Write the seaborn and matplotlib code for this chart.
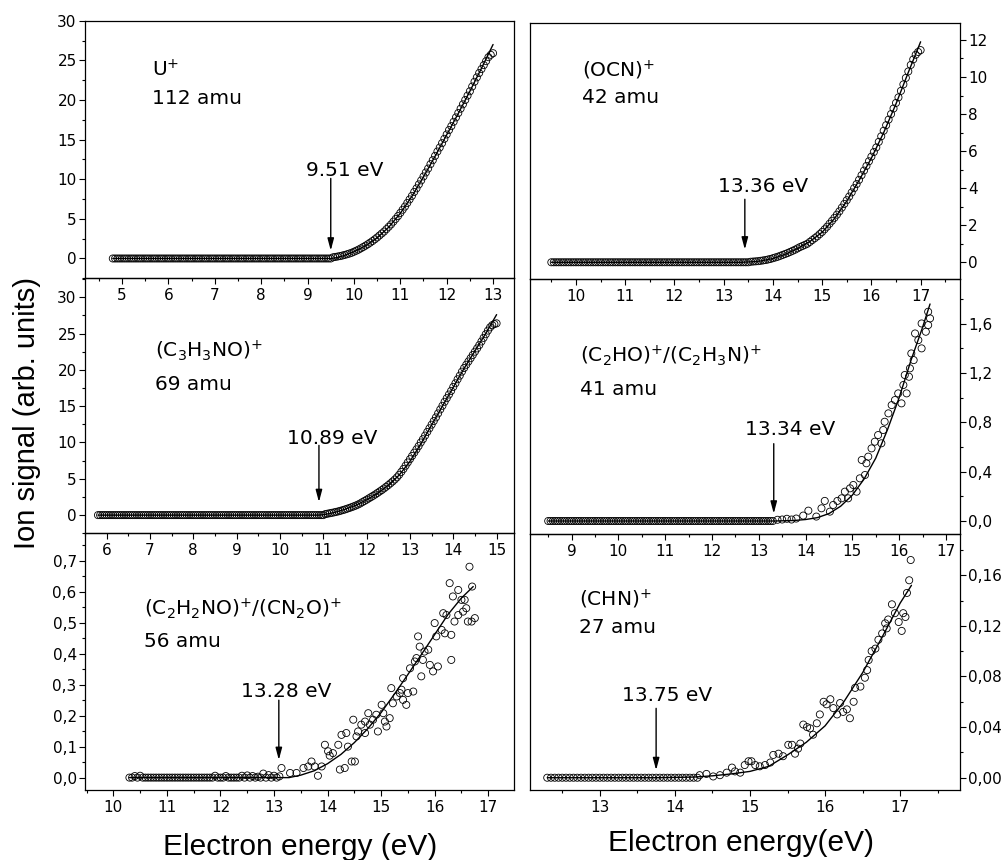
import matplotlib
matplotlib.use("Agg")
import matplotlib.pyplot as plt
from matplotlib.ticker import MultipleLocator, FuncFormatter
import seaborn as sns

sns.set_style("ticks")
plt.rcParams["font.family"] = ["DejaVu Sans"]
plt.rcParams["mathtext.fontset"] = "dejavusans"
for key in ["text.color", "axes.labelcolor", "xtick.color", "ytick.color", "axes.edgecolor"]:
    plt.rcParams[key] = "black"

# ---- U+ , 112 amu ----
u_base = [4.80, 4.85, 4.90, 4.95,
          5.00, 5.05, 5.10, 5.15, 5.20, 5.25, 5.30, 5.35, 5.40, 5.45,
          5.50, 5.55, 5.60, 5.65, 5.70, 5.75, 5.80, 5.85, 5.90, 5.95,
          6.00, 6.05, 6.10, 6.15, 6.20, 6.25, 6.30, 6.35, 6.40, 6.45,
          6.50, 6.55, 6.60, 6.65, 6.70, 6.75, 6.80, 6.85, 6.90, 6.95,
          7.00, 7.05, 7.10, 7.15, 7.20, 7.25, 7.30, 7.35, 7.40, 7.45,
          7.50, 7.55, 7.60, 7.65, 7.70, 7.75, 7.80, 7.85, 7.90, 7.95,
          8.00, 8.05, 8.10, 8.15, 8.20, 8.25, 8.30, 8.35, 8.40, 8.45,
          8.50, 8.55, 8.60, 8.65, 8.70, 8.75, 8.80, 8.85, 8.90, 8.95,
          9.00, 9.05, 9.10, 9.15, 9.20, 9.25, 9.30, 9.35, 9.40, 9.45, 9.50]
u_e = [9.55, 9.60, 9.65, 9.70, 9.75, 9.80, 9.85, 9.90, 9.95, 10.00,
       10.05, 10.10, 10.15, 10.20, 10.25, 10.30, 10.35, 10.40, 10.45, 10.50,
       10.55, 10.60, 10.65, 10.70, 10.75, 10.80, 10.85, 10.90, 10.95, 11.00,
       11.05, 11.10, 11.15, 11.20, 11.25, 11.30, 11.35, 11.40, 11.45, 11.50,
       11.55, 11.60, 11.65, 11.70, 11.75, 11.80, 11.85, 11.90, 11.95, 12.00,
       12.05, 12.10, 12.15, 12.20, 12.25, 12.30, 12.35, 12.40, 12.45, 12.50,
       12.55, 12.60, 12.65, 12.70, 12.75, 12.80, 12.85, 12.90, 12.95, 13.00]
u_s = [0.15, 0.20, 0.25, 0.30, 0.37, 0.45, 0.53, 0.62, 0.72, 0.85,
       0.98, 1.12, 1.28, 1.45, 1.62, 1.80, 2.00, 2.20, 2.42, 2.65,
       2.90, 3.15, 3.40, 3.70, 4.00, 4.30, 4.65, 5.00, 5.35, 5.75,
       6.15, 6.55, 7.00, 7.45, 7.90, 8.40, 8.85, 9.35, 9.85, 10.35,
       10.85, 11.35, 11.9, 12.4, 12.95, 13.5, 14.0, 14.55, 15.1, 15.65,
       16.2, 16.7, 17.25, 17.8, 18.35, 18.9, 19.45, 20.0, 20.55, 21.1,
       21.7, 22.3, 22.85, 23.4, 23.9, 24.4, 24.9, 25.4, 25.7, 25.9]
u_fit_e = [4.8, 9.51, 9.6, 9.75, 10.0, 10.25, 10.5, 10.75, 11.0, 11.25, 11.5, 11.75,
           12.0, 12.25, 12.5, 12.75, 13.0]
u_fit_s = [0, 0, 0.08, 0.3, 0.85, 1.6, 2.6, 3.95, 5.7, 7.85, 10.3, 12.9,
           15.6, 18.3, 21.1, 24.0, 27.0]

# ---- (OCN)+ , 42 amu ----
ocn_base = [9.50, 9.55, 9.60, 9.65, 9.70, 9.75, 9.80, 9.85, 9.90, 9.95,
            10.00, 10.05, 10.10, 10.15, 10.20, 10.25, 10.30, 10.35, 10.40, 10.45,
            10.50, 10.55, 10.60, 10.65, 10.70, 10.75, 10.80, 10.85, 10.90, 10.95,
            11.00, 11.05, 11.10, 11.15, 11.20, 11.25, 11.30, 11.35, 11.40, 11.45,
            11.50, 11.55, 11.60, 11.65, 11.70, 11.75, 11.80, 11.85, 11.90, 11.95,
            12.00, 12.05, 12.10, 12.15, 12.20, 12.25, 12.30, 12.35, 12.40, 12.45,
            12.50, 12.55, 12.60, 12.65, 12.70, 12.75, 12.80, 12.85, 12.90, 12.95,
            13.00, 13.05, 13.10, 13.15, 13.20, 13.25, 13.30, 13.35, 13.40, 13.45, 13.50]
ocn_e = [13.55, 13.60, 13.65, 13.70, 13.75, 13.80, 13.85, 13.90, 13.95, 14.00,
         14.05, 14.10, 14.15, 14.20, 14.25, 14.30, 14.35, 14.40, 14.45, 14.50,
         14.55, 14.60, 14.65, 14.70, 14.75, 14.80, 14.85, 14.90, 14.95, 15.00,
         15.05, 15.10, 15.15, 15.20, 15.25, 15.30, 15.35, 15.40, 15.45, 15.50,
         15.55, 15.60, 15.65, 15.70, 15.75, 15.80, 15.85, 15.90, 15.95, 16.00,
         16.05, 16.10, 16.15, 16.20, 16.25, 16.30, 16.35, 16.40, 16.45, 16.50,
         16.55, 16.60, 16.65, 16.70, 16.75, 16.80, 16.85, 16.90, 16.95, 17.00]
ocn_s = [0.03, 0.04, 0.05, 0.06, 0.08, 0.10, 0.12, 0.15, 0.18, 0.22,
         0.26, 0.30, 0.35, 0.40, 0.45, 0.50, 0.56, 0.62, 0.68, 0.75,
         0.82, 0.88, 0.94, 1.00, 1.10, 1.20, 1.30, 1.40, 1.52, 1.64,
         1.78, 1.92, 2.08, 2.24, 2.40, 2.57, 2.75, 2.95, 3.15, 3.35,
         3.55, 3.77, 4.00, 4.22, 4.45, 4.70, 4.95, 5.20, 5.45, 5.70,
         5.95, 6.20, 6.50, 6.80, 7.10, 7.40, 7.70, 8.00, 8.30, 8.60,
         8.90, 9.25, 9.60, 9.95, 10.3, 10.65, 10.95, 11.2, 11.35, 11.45]
ocn_fit_e = [9.5, 13.36, 13.6, 13.75, 14.0, 14.25, 14.5, 14.75, 15.0, 15.25, 15.5,
             15.75, 16.0, 16.25, 16.5, 16.75, 17.0]
ocn_fit_s = [0, 0, 0.03, 0.07, 0.2, 0.43, 0.74, 1.12, 1.62, 2.36, 3.3,
             4.42, 5.62, 7.0, 8.55, 10.25, 11.9]

# ---- (C3H3NO)+ , 69 amu ----
c3_base = [5.80, 5.85, 5.90, 5.95,
           6.00, 6.05, 6.10, 6.15, 6.20, 6.25, 6.30, 6.35, 6.40, 6.45,
           6.50, 6.55, 6.60, 6.65, 6.70, 6.75, 6.80, 6.85, 6.90, 6.95,
           7.00, 7.05, 7.10, 7.15, 7.20, 7.25, 7.30, 7.35, 7.40, 7.45,
           7.50, 7.55, 7.60, 7.65, 7.70, 7.75, 7.80, 7.85, 7.90, 7.95,
           8.00, 8.05, 8.10, 8.15, 8.20, 8.25, 8.30, 8.35, 8.40, 8.45,
           8.50, 8.55, 8.60, 8.65, 8.70, 8.75, 8.80, 8.85, 8.90, 8.95,
           9.00, 9.05, 9.10, 9.15, 9.20, 9.25, 9.30, 9.35, 9.40, 9.45,
           9.50, 9.55, 9.60, 9.65, 9.70, 9.75, 9.80, 9.85, 9.90, 9.95,
           10.00, 10.05, 10.10, 10.15, 10.20, 10.25, 10.30, 10.35, 10.40, 10.45,
           10.50, 10.55, 10.60, 10.65, 10.70, 10.75, 10.80, 10.85, 10.90, 10.95, 11.00]
c3_e = [11.05, 11.10, 11.15, 11.20, 11.25, 11.30, 11.35, 11.40, 11.45, 11.50,
        11.55, 11.60, 11.65, 11.70, 11.75, 11.80, 11.85, 11.90, 11.95, 12.00,
        12.05, 12.10, 12.15, 12.20, 12.25, 12.30, 12.35, 12.40, 12.45, 12.50,
        12.55, 12.60, 12.65, 12.70, 12.75, 12.80, 12.85, 12.90, 12.95, 13.00,
        13.05, 13.10, 13.15, 13.20, 13.25, 13.30, 13.35, 13.40, 13.45, 13.50,
        13.55, 13.60, 13.65, 13.70, 13.75, 13.80, 13.85, 13.90, 13.95, 14.00,
        14.05, 14.10, 14.15, 14.20, 14.25, 14.30, 14.35, 14.40, 14.45, 14.50,
        14.55, 14.60, 14.65, 14.70, 14.75, 14.80, 14.85, 14.90, 14.95, 15.00]
c3_s = [0.15, 0.20, 0.26, 0.32, 0.38, 0.45, 0.52, 0.60, 0.69, 0.78,
        0.88, 0.98, 1.09, 1.20, 1.32, 1.45, 1.60, 1.78, 1.95, 2.12,
        2.30, 2.48, 2.66, 2.85, 3.05, 3.25, 3.45, 3.67, 3.90, 4.13,
        4.38, 4.63, 4.90, 5.20, 5.55, 5.95, 6.35, 6.80, 7.25, 7.70,
        8.15, 8.60, 9.05, 9.50, 10.0, 10.45, 10.95, 11.45, 11.95, 12.45,
        12.95, 13.45, 14.0, 14.55, 15.05, 15.6, 16.1, 16.6, 17.1, 17.65,
        18.15, 18.7, 19.2, 19.75, 20.25, 20.7, 21.15, 21.6, 22.05, 22.5,
        22.95, 23.4, 23.9, 24.4, 24.9, 25.4, 25.85, 26.15, 26.3, 26.4]
c3_fit_e = [5.8, 10.89, 11.0, 11.25, 11.5, 11.75, 12.0, 12.25, 12.5, 12.75, 13.0,
            13.25, 13.5, 13.75, 14.0, 14.25, 14.5, 14.75, 15.0]
c3_fit_s = [0, 0, 0.05, 0.35, 0.8, 1.35, 2.1, 3.0, 4.1, 5.5, 7.4,
            9.8, 12.4, 15.0, 17.6, 20.2, 22.6, 25.0, 27.6]

# ---- (C2HO)+/(C2H3N)+ , 41 amu ----
c2ho_base = [8.50, 8.55, 8.60, 8.65, 8.70, 8.75, 8.80, 8.85, 8.90, 8.95,
             9.00, 9.05, 9.10, 9.15, 9.20, 9.25, 9.30, 9.35, 9.40, 9.45,
             9.50, 9.55, 9.60, 9.65, 9.70, 9.75, 9.80, 9.85, 9.90, 9.95,
             10.00, 10.05, 10.10, 10.15, 10.20, 10.25, 10.30, 10.35, 10.40, 10.45,
             10.50, 10.55, 10.60, 10.65, 10.70, 10.75, 10.80, 10.85, 10.90, 10.95,
             11.00, 11.05, 11.10, 11.15, 11.20, 11.25, 11.30, 11.35, 11.40, 11.45,
             11.50, 11.55, 11.60, 11.65, 11.70, 11.75, 11.80, 11.85, 11.90, 11.95,
             12.00, 12.05, 12.10, 12.15, 12.20, 12.25, 12.30, 12.35, 12.40, 12.45,
             12.50, 12.55, 12.60, 12.65, 12.70, 12.75, 12.80, 12.85, 12.90, 12.95,
             13.00, 13.05, 13.10, 13.15, 13.20, 13.25, 13.30]
c2ho_e = [13.4, 13.5, 13.6, 13.7, 13.8, 13.95, 14.06, 14.23, 14.34, 14.41,
          14.52, 14.59, 14.68, 14.77, 14.84, 14.91, 14.95, 15.02, 15.09, 15.16,
          15.20, 15.27, 15.30, 15.34, 15.41, 15.48, 15.55, 15.62, 15.66, 15.69,
          15.77, 15.84, 15.91, 15.98, 16.05, 16.09, 16.12, 16.16, 16.21, 16.23,
          16.26, 16.31, 16.34, 16.41, 16.48, 16.48, 16.57, 16.62, 16.62, 16.66]
c2ho_s = [0.010, 0.012, 0.018, 0.012, 0.020, 0.044, 0.084, 0.036, 0.103, 0.163,
          0.076, 0.130, 0.163, 0.184, 0.238, 0.184, 0.265, 0.292, 0.238, 0.346,
          0.495, 0.373, 0.468, 0.522, 0.589, 0.643, 0.697, 0.630, 0.738, 0.805,
          0.873, 0.940, 0.981, 1.035, 0.954, 1.103, 1.184, 1.035, 1.170, 1.238,
          1.359, 1.305, 1.521, 1.467, 1.400, 1.602, 1.535, 1.589, 1.697, 1.643]
c2ho_fit_e = [8.5, 13.34, 13.75, 14.0, 14.25, 14.5, 14.75, 15.0, 15.25, 15.5, 15.75,
              16.0, 16.25, 16.5, 16.66]
c2ho_fit_s = [0, 0, 0.004, 0.012, 0.027, 0.06, 0.12, 0.21, 0.34, 0.51, 0.74,
              1.0, 1.3, 1.57, 1.76]

# ---- (C2H2NO)+/(CN2O)+ , 56 amu ----
c2h2_base = [10.35, 10.45, 10.55, 10.65, 10.75, 10.85, 10.95, 11.05, 11.15, 11.25,
             11.35, 11.45, 11.55, 11.65, 11.75, 11.85, 11.95, 12.05, 12.15, 12.25,
             12.35, 12.45, 12.55, 12.65, 12.75, 12.85, 12.95, 13.05]
c2h2_e = [10.3, 10.4, 10.5, 10.6, 10.7, 10.8, 10.9, 11.0, 11.1, 11.2,
          11.3, 11.4, 11.5, 11.6, 11.7, 11.8, 11.9, 12.0, 12.1, 12.2,
          12.3, 12.4, 12.5, 12.6, 12.7, 12.8, 12.9, 13.0, 13.1,
          13.14, 13.30, 13.42, 13.55, 13.64, 13.70, 13.76, 13.82, 13.89, 13.95,
          14.01, 14.04, 14.10, 14.20, 14.23, 14.26, 14.32, 14.35, 14.38, 14.45,
          14.48, 14.51, 14.54, 14.57, 14.63, 14.70, 14.76, 14.70, 14.79, 14.85,
          14.91, 14.94, 15.01, 15.04, 15.07, 15.10, 15.16, 15.19, 15.22, 15.29,
          15.35, 15.38, 15.41, 15.47, 15.50, 15.41, 15.60, 15.54, 15.63, 15.66,
          15.69, 15.72, 15.75, 15.78, 15.81, 15.88, 15.91, 15.97, 16.00, 16.06,
          16.03, 16.13, 16.16, 16.22, 16.19, 16.28, 16.31, 16.31, 16.34, 16.37,
          16.44, 16.44, 16.50, 16.53, 16.56, 16.59, 16.62, 16.65, 16.70, 16.69, 16.75]
c2h2_s = [0.0, 0.005, 0.006, 0.0, 0.0, 0.0, 0.0, 0.0, 0.0, 0.0,
          0.0, 0.0, 0.0, 0.0, 0.0, 0.0, 0.006, 0.0, 0.005, 0.0,
          0.0, 0.006, 0.007, 0.005, 0.003, 0.013, 0.008, 0.006, 0.004,
          0.031, 0.015, 0.015, 0.031, 0.036, 0.052, 0.036, 0.006, 0.036, 0.106,
          0.085, 0.071, 0.079, 0.106, 0.026, 0.138, 0.031, 0.144, 0.100, 0.052,
          0.187, 0.052, 0.133, 0.149, 0.171, 0.181, 0.208, 0.144, 0.171, 0.187,
          0.203, 0.149, 0.235, 0.208, 0.181, 0.165, 0.192, 0.289, 0.240, 0.262,
          0.273, 0.284, 0.251, 0.235, 0.273, 0.321, 0.278, 0.353, 0.375, 0.386,
          0.456, 0.423, 0.327, 0.380, 0.407, 0.413, 0.364, 0.343, 0.499, 0.359,
          0.456, 0.477, 0.531, 0.525, 0.466, 0.628, 0.461, 0.380, 0.585, 0.504,
          0.606, 0.525, 0.574, 0.536, 0.574, 0.547, 0.504, 0.681, 0.617, 0.504, 0.515]
c2h2_fit_e = [10.3, 13.28, 13.5, 13.75, 14.0, 14.25, 14.5, 14.75, 15.0, 15.25, 15.5,
              15.75, 16.0, 16.25, 16.5, 16.72]
c2h2_fit_s = [0, 0, 0.008, 0.022, 0.045, 0.075, 0.113, 0.158, 0.21, 0.27, 0.333,
              0.397, 0.462, 0.527, 0.58, 0.617]

# ---- (CHN)+ , 27 amu ----
chn_base = [12.30, 12.35, 12.40, 12.45, 12.50, 12.55, 12.60, 12.65, 12.70, 12.75,
            12.80, 12.85, 12.90, 12.95, 13.00, 13.05, 13.10, 13.15, 13.20, 13.25,
            13.30, 13.35, 13.40, 13.45, 13.50, 13.55, 13.60, 13.65, 13.70, 13.75,
            13.80, 13.85, 13.90, 13.95, 14.00, 14.05, 14.10, 14.15, 14.20, 14.25, 14.30]
chn_e = [14.33, 14.42, 14.51, 14.60, 14.69, 14.76, 14.80, 14.87, 14.93, 14.98,
         15.02, 15.07, 15.13, 15.20, 15.27, 15.31, 15.38, 15.44, 15.51, 15.56,
         15.60, 15.64, 15.67, 15.71, 15.76, 15.80, 15.84, 15.89, 15.93, 15.98,
         16.02, 16.07, 16.11, 16.16, 16.20, 16.24, 16.29, 16.33, 16.38, 16.40,
         16.47, 16.53, 16.56, 16.58, 16.62, 16.67, 16.71, 16.76, 16.80, 16.82,
         16.84, 16.89, 16.93, 16.98, 17.02, 17.04, 17.07, 17.09, 17.12, 17.14]
chn_s = [0.002, 0.003, 0.001, 0.002, 0.004, 0.008, 0.005, 0.004, 0.010, 0.013,
         0.013, 0.010, 0.009, 0.010, 0.012, 0.018, 0.019, 0.017, 0.026, 0.026,
         0.019, 0.023, 0.027, 0.042, 0.040, 0.039, 0.034, 0.043, 0.050, 0.060,
         0.058, 0.062, 0.055, 0.050, 0.059, 0.052, 0.054, 0.047, 0.060, 0.071,
         0.072, 0.079, 0.085, 0.093, 0.100, 0.102, 0.109, 0.114, 0.122, 0.118,
         0.125, 0.137, 0.130, 0.123, 0.116, 0.130, 0.127, 0.146, 0.156, 0.172]
chn_fit_e = [12.3, 13.75, 14.25, 14.5, 14.75, 15.0, 15.25, 15.5, 15.75, 16.0, 16.25,
             16.5, 16.75, 17.0, 17.15]
chn_fit_s = [0, 0, 0.0005, 0.0015, 0.003, 0.005, 0.009, 0.018, 0.028, 0.041, 0.06,
             0.083, 0.11, 0.138, 0.152]


def comma(decimals):
    def f(v, pos):
        v = round(v, 6) + 0.0
        return f"{v:.{decimals}f}".replace(".", ",")
    return FuncFormatter(f)


fig = plt.figure(figsize=(10.02, 8.6), dpi=100)


def panel(rect, pts_e, pts_s, fit_e, fit_s, xlim, ylim, ymaj, ymin, fmt, right,
          name, amu, name_pos, thr_text, text_xy, arrow_x, arrow_y):
    ax = fig.add_axes(rect)
    ax.set_facecolor("none")
    sns.scatterplot(x=pts_e, y=pts_s, ax=ax, marker="o", s=26, facecolor="none",
                    edgecolor="black", linewidth=0.6, zorder=2)
    sns.lineplot(x=fit_e, y=fit_s, ax=ax, color="black", linewidth=1.0,
                 estimator=None, sort=False, zorder=3)
    ax.set_xlim(*xlim)
    ax.set_ylim(*ylim)
    ax.set_xlabel("")
    ax.set_ylabel("")
    ax.xaxis.set_major_locator(MultipleLocator(1))
    ax.xaxis.set_minor_locator(MultipleLocator(0.5))
    ax.yaxis.set_major_locator(MultipleLocator(ymaj))
    ax.yaxis.set_minor_locator(MultipleLocator(ymin))
    ax.yaxis.set_major_formatter(fmt)
    if right:
        ax.yaxis.tick_right()
    for sp in ax.spines.values():
        sp.set_linewidth(0.9)
        sp.set_color("black")
        sp.set_visible(True)
    ax.tick_params(which="major", direction="out", length=4.5, width=0.8, labelsize=11,
                   color="black", labelcolor="black")
    ax.tick_params(which="minor", direction="out", length=2.5, width=0.8, color="black")
    ax.tick_params(axis="x", which="major", pad=2.5)
    ax.tick_params(axis="y", which="major", pad=1.5)
    ax.text(name_pos[0], name_pos[1], name, transform=ax.transAxes,
            fontsize=14.5, va="baseline", ha="left")
    ax.text(name_pos[0], name_pos[2], amu, transform=ax.transAxes,
            fontsize=14.5, va="baseline", ha="left")
    ax.text(text_xy[0], text_xy[1], thr_text, fontsize=14.5, ha="center", va="baseline")
    ax.annotate("", xy=(arrow_x, arrow_y[1]), xytext=(arrow_x, arrow_y[0]),
                arrowprops=dict(arrowstyle="-|>,head_length=0.6,head_width=0.16",
                                color="black", lw=1.0, mutation_scale=12,
                                shrinkA=0, shrinkB=0))
    return ax


intfmt = FuncFormatter(lambda v, p: f"{v:.0f}")

panel([0.0848, 0.6764, 0.4281, 0.2995], u_base + u_e, [0.0] * len(u_base) + u_s,
      u_fit_e, u_fit_s, (4.2, 13.45), (-2.5, 30.0), 5, 2.5, intfmt, False,
      r"U$^{+}$", "112 amu", (0.156, 0.785, 0.677), "9.51 eV", (9.80, 10.4),
      9.50, (10.1, 1.0))

panel([0.0848, 0.3799, 0.4281, 0.2965], c3_base + c3_e, [0.0] * len(c3_base) + c3_s,
      c3_fit_e, c3_fit_s, (5.5, 15.4), (-2.5, 32.6), 5, 2.5, intfmt, False,
      r"(C$_3$H$_3$NO)$^{+}$", "69 amu", (0.163, 0.690, 0.562), "10.89 eV", (11.20, 9.78),
      10.90, (9.6, 1.8))

panel([0.0848, 0.0814, 0.4281, 0.2985], c2h2_base + c2h2_e, [0.0] * len(c2h2_base) + c2h2_s,
      c2h2_fit_e, c2h2_fit_s, (9.47, 17.48), (-0.04, 0.789), 0.1, 0.05, comma(1), False,
      r"(C$_2$H$_2$NO)$^{+}$/(CN$_2$O)$^{+}$", "56 amu", (0.1375, 0.682, 0.558),
      "13.28 eV", (13.22, 0.261), 13.09, (0.25, 0.057))

panel([0.5289, 0.6752, 0.4287, 0.2984], ocn_base + ocn_e, [0.0] * len(ocn_base) + ocn_s,
      ocn_fit_e, ocn_fit_s, (9.066, 17.79), (-0.92, 12.93), 2, 1, intfmt, True,
      r"(OCN)$^{+}$", "42 amu", (0.120, 0.787, 0.686), "13.36 eV", (13.80, 3.77),
      13.43, (3.4, 0.69))

panel([0.5289, 0.3787, 0.4287, 0.2965], c2ho_base + c2ho_e, [0.0] * len(c2ho_base) + c2ho_s,
      c2ho_fit_e, c2ho_fit_s, (8.11, 17.29), (-0.108, 1.96), 0.4, 0.2, comma(1), True,
      r"(C$_2$HO)$^{+}$/(C$_2$H$_3$N)$^{+}$", "41 amu", (0.116, 0.677, 0.546),
      "13.34 eV", (13.66, 0.695), 13.32, (0.627, 0.06))

panel([0.5289, 0.0814, 0.4287, 0.2973], chn_base + chn_e, [0.0] * len(chn_base) + chn_s,
      chn_fit_e, chn_fit_s, (12.07, 17.79), (-0.0097, 0.1923), 0.04, 0.02, comma(2), True,
      r"(CHN)$^{+}$", "27 amu", (0.115, 0.720, 0.613), "13.75 eV", (13.90, 0.0608),
      13.75, (0.0548, 0.006))

fig.text(0.027, 0.52, "Ion signal (arb. units)", rotation=90, ha="center", va="center",
         fontsize=21, family="Liberation Sans")
fig.text(0.300, 0.0058, "Electron energy (eV)", ha="center", va="baseline",
         fontsize=21.5, family="Liberation Sans")
fig.text(0.7395, 0.0100, "Electron energy(eV)", ha="center", va="baseline",
         fontsize=21.5, family="Liberation Sans")

fig.savefig("out.png", dpi=100)
